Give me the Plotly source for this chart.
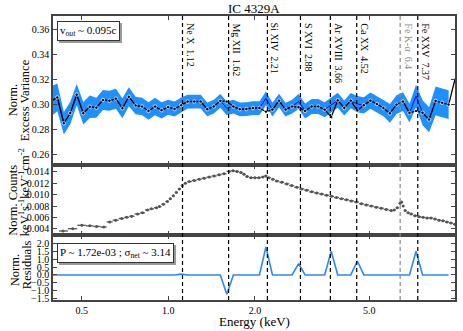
import numpy as np
import plotly.graph_objects as go

# ---------------- data ----------------
# Top panel: normalised excess variance
var_energy = [0.390, 0.411, 0.433, 0.456, 0.480, 0.506, 0.533, 0.562, 0.592, 0.624,
              0.657, 0.692, 0.729, 0.769, 0.810, 0.853, 0.899, 0.947, 0.998, 1.051,
              1.108, 1.167, 1.230, 1.296, 1.365, 1.439, 1.516, 1.597, 1.683, 1.773,
              1.868, 1.968, 2.074, 2.185, 2.302, 2.426, 2.556, 2.693, 2.837, 2.990,
              3.150, 3.319, 3.497, 3.685, 3.882, 4.091, 4.310, 4.541, 4.785, 5.042,
              5.312, 5.597, 5.897, 6.214, 6.547, 6.898, 7.268, 7.658, 8.069, 8.502,
              8.958, 9.438]
var_data = [0.3020, 0.3053, 0.2846, 0.2928, 0.3075, 0.2926, 0.2978, 0.2970, 0.3032, 0.3026,
            0.3043, 0.2966, 0.3058, 0.2988, 0.2980, 0.2944, 0.2980, 0.2950, 0.2975, 0.2960,
            0.2992, 0.3020, 0.3020, 0.3020, 0.2958, 0.2980, 0.3025, 0.2966, 0.2980, 0.2958,
            0.2960, 0.2968, 0.2968, 0.3045, 0.2955, 0.3027, 0.2955, 0.2980, 0.3020, 0.2945,
            0.2980, 0.2980, 0.2955, 0.2990, 0.3030, 0.2968, 0.3027, 0.3000, 0.2990, 0.3027,
            0.3000, 0.2968, 0.2925, 0.2995, 0.3020, 0.2928, 0.3065, 0.2930, 0.2875, 0.3025,
            0.3010, 0.2995]
var_err = [0.0120, 0.0110, 0.0090, 0.0090, 0.0085, 0.0090, 0.0090, 0.0080, 0.0080, 0.0080,
           0.0080, 0.0080, 0.0075, 0.0070, 0.0070, 0.0070, 0.0070, 0.0065, 0.0060, 0.0060,
           0.0060, 0.0055, 0.0055, 0.0055, 0.0055, 0.0055, 0.0055, 0.0055, 0.0055, 0.0055,
           0.0055, 0.0055, 0.0055, 0.0055, 0.0055, 0.0055, 0.0055, 0.0055, 0.0060, 0.0060,
           0.0060, 0.0060, 0.0060, 0.0060, 0.0060, 0.0060, 0.0060, 0.0065, 0.0065, 0.0065,
           0.0065, 0.0065, 0.0075, 0.0075, 0.0075, 0.0075, 0.0090, 0.0100, 0.0100, 0.0115,
           0.0115, 0.0115]
model_energy = var_energy + [9.945]
var_model = [0.3020, 0.3053, 0.2846, 0.2928, 0.3075, 0.2926, 0.2978, 0.2970, 0.3032, 0.3026,
             0.3043, 0.2966, 0.3058, 0.2988, 0.2980, 0.2944, 0.2980, 0.2950, 0.2975, 0.2960,
             0.2990, 0.3020, 0.3020, 0.3020, 0.2958, 0.2980, 0.3025, 0.3020, 0.2980, 0.2958,
             0.2960, 0.2968, 0.2968, 0.2938, 0.2955, 0.3027, 0.2955, 0.2980, 0.2975, 0.2945,
             0.2980, 0.2980, 0.2955, 0.2895, 0.3030, 0.2968, 0.3027, 0.2948, 0.2990, 0.3027,
             0.3000, 0.2968, 0.2925, 0.2995, 0.3020, 0.2928, 0.2945, 0.2930, 0.2875, 0.3025,
             0.3010, 0.2995, 0.3205]

# Middle panel: normalised counts spectrum
counts_energy = [0.403, 0.430, 0.465, 0.500, 0.533, 0.563, 0.596, 0.625, 0.656, 0.688,
                 0.716, 0.745, 0.781, 0.813, 0.846, 0.873, 0.909, 0.931, 0.961, 0.992,
                 1.016, 1.041, 1.066, 1.092, 1.118, 1.145, 1.182, 1.230, 1.280, 1.332,
                 1.386, 1.443, 1.501, 1.562, 1.626, 1.679, 1.733, 1.789, 1.832, 1.877,
                 1.938, 2.000, 2.065, 2.132, 2.183, 2.236, 2.308, 2.383, 2.480, 2.581,
                 2.686, 2.795, 2.909, 3.027, 3.150, 3.279, 3.412, 3.550, 3.694, 3.845,
                 4.001, 4.164, 4.333, 4.508, 4.692, 4.882, 5.080, 5.287, 5.502, 5.725,
                 5.958, 6.103, 6.250, 6.401, 6.478, 6.556, 6.661, 6.822, 6.988, 7.213,
                 7.447, 7.689, 7.940, 8.193, 8.458, 8.733, 9.016, 9.309, 9.610, 9.920]
counts_value = [0.0029, 0.0036, 0.0040, 0.0046, 0.0045, 0.0044, 0.0043, 0.0052, 0.0055, 0.0058,
                0.0060, 0.0062, 0.0066, 0.0068, 0.0073, 0.0075, 0.0077, 0.0079, 0.0083, 0.0088,
                0.0093, 0.0098, 0.0104, 0.0110, 0.0116, 0.0120, 0.0123, 0.0125, 0.0127, 0.0129,
                0.0131, 0.0133, 0.0135, 0.0137, 0.0141, 0.0142, 0.0141, 0.0139, 0.0136, 0.0132,
                0.0130, 0.0130, 0.0130, 0.0131, 0.0133, 0.0130, 0.0127, 0.0124, 0.0122, 0.0119,
                0.0116, 0.0113, 0.0110, 0.0108, 0.0105, 0.0103, 0.0101, 0.0099, 0.0097, 0.0095,
                0.0093, 0.0091, 0.0089, 0.0087, 0.0084, 0.0082, 0.0080, 0.0078, 0.0076, 0.0074,
                0.0072, 0.0073, 0.0077, 0.0085, 0.0087, 0.0080, 0.0072, 0.0068, 0.0066, 0.0063,
                0.0061, 0.0060, 0.0059, 0.0059, 0.0057, 0.0055, 0.0054, 0.0052, 0.0050, 0.0048]
counts_err = 0.00018

# Bottom panel: normalised residuals on the variance grid
residuals = [0, 0, 0, 0, 0, 0, 0, 0, 0, 0,
             0, 0, 0, 0, 0, 0, 0, 0, 0, 0,
             0.05, 0, 0, 0, 0, 0, 0, -1.22, 0, 0,
             0, 0, 0, 1.77, 0, 0, 0, 0, 0.72, 0,
             0, 0, 0, 1.50, 0, 0, 0, 0.88, 0, 0,
             0, 0, 0, 0, 0, 0, 1.50, 0, 0, 0,
             0, 0]

# Emission lines
line_names = ["Ne X", "Mg XII", "Si XIV", "S XVI", "Ar XVIII", "Ca XX", "Fe K-\u03b1", "Fe XXV"]
line_energy = [1.12, 1.62, 2.21, 2.88, 3.66, 4.52, 6.4, 7.37]
line_label = ["1.12", "1.62", "2.21", "2.88", "3.66", "4.52", "6.4", "7.37"]

title_text = "IC 4329A"
vout_text = "v<sub><i>out</i></sub> ~ 0.095c"
stat_text = "P ~ 1.72e-03 ; \u03c3<sub>net</sub> ~ 3.14"

# ---------------- figure ----------------
FONT = "Liberation Serif"
BAND = "#1E90FF"
W, H = 463, 331
ML, MR, MT, MB = 53, 6, 16, 31
PH = H - MT - MB  # 284

def py(pix):
    return (H - MB - pix) / PH

def px(pix):
    return (pix - ML) / (W - ML - MR)

dom_top = [py(165), 1.0]
dom_mid = [py(235), py(165)]
dom_bot = [0.0, py(235)]

fig = go.Figure()

vd = np.array(var_data)
ve = np.array(var_err)
fig.add_trace(go.Scatter(x=var_energy, y=vd + ve, mode="lines", line=dict(width=0, color=BAND),
                         showlegend=False, hoverinfo="skip", xaxis="x", yaxis="y"))
fig.add_trace(go.Scatter(x=var_energy, y=vd - ve, mode="lines", line=dict(width=0, color=BAND),
                         fill="tonexty", fillcolor=BAND, showlegend=False, hoverinfo="skip",
                         xaxis="x", yaxis="y"))
fig.add_trace(go.Scatter(x=var_energy, y=var_data, mode="lines", line=dict(color="#1010d0", width=1),
                         showlegend=False, xaxis="x", yaxis="y"))
msize = [3.5] * len(var_energy) + [0]
fig.add_trace(go.Scatter(x=model_energy, y=var_model, mode="lines+markers",
                         line=dict(color="black", width=1.3),
                         marker=dict(color="black", size=msize),
                         showlegend=False, xaxis="x", yaxis="y"))

# counts with error bars
ce = np.array(counts_energy)
edges = np.sqrt(ce[1:] * ce[:-1])
lo = np.concatenate([[ce[0] ** 2 / edges[0]], edges])
hi = np.concatenate([edges, [ce[-1] ** 2 / edges[-1]]])
fig.add_trace(go.Scatter(
    x=counts_energy, y=counts_value, mode="markers",
    marker=dict(color="#555555", size=3),
    error_x=dict(type="data", symmetric=False, array=hi - ce, arrayminus=ce - lo,
                 color="#555555", thickness=1.3, width=0),
    error_y=dict(type="constant", value=counts_err, color="#777777", thickness=1.3, width=0),
    showlegend=False, xaxis="x2", yaxis="y2"))

fig.add_trace(go.Scatter(x=var_energy, y=residuals, mode="lines",
                         line=dict(color="#2a8af0", width=1.6),
                         showlegend=False, xaxis="x3", yaxis="y3"))

xr = [np.log10(0.397), np.log10(9.93)]
axcommon = dict(showline=True, linecolor="#444", linewidth=1.5, mirror="allticks",
                ticks="inside", ticklen=4, tickwidth=1, tickcolor="#444",
                showgrid=False, zeroline=False,
                tickfont=dict(family=FONT, size=10, color="black"))
xcommon = dict(type="log", range=xr, tickvals=[0.5, 1, 2, 5],
               ticktext=["0.5", "1.0", "2.0", "5.0"], **axcommon)

fig.update_layout(
    width=W, height=H,
    margin=dict(l=ML, r=MR, t=MT, b=MB),
    paper_bgcolor="white", plot_bgcolor="white",
    showlegend=False,
    xaxis=dict(domain=[0, 1], anchor="y", showticklabels=False, **xcommon),
    xaxis2=dict(domain=[0, 1], anchor="y2", matches="x", showticklabels=False, **xcommon),
    xaxis3=dict(domain=[0, 1], anchor="y3", matches="x", showticklabels=True, **xcommon),
    yaxis=dict(domain=dom_top, anchor="x", range=[0.2512, 0.3704], tickvals=[0.26, 0.28, 0.30, 0.32, 0.34, 0.36],
               tickformat=".2f", **axcommon),
    yaxis2=dict(domain=dom_mid, anchor="x2", range=[0.00289, 0.01523],
                tickvals=[0.004, 0.006, 0.008, 0.010, 0.012, 0.014], tickformat=".3f", **axcommon),
    yaxis3=dict(domain=dom_bot, anchor="x3", range=[-1.58, 2.52],
                tickvals=[-1.5, -1.0, -0.5, 0.0, 0.5, 1.0, 1.5, 2.0], tickformat=".1f", **axcommon),
)

# vertical dashed lines
for name, e in zip(line_names, line_energy):
    col = "#888888" if "K-" in name else "black"
    fig.add_shape(type="line", xref="x", yref="paper", x0=e, x1=e, y0=0, y1=1,
                  line=dict(color=col, width=1.2, dash="4px,3px"), layer="above")

# line labels
for name, e, lab in zip(line_names, line_energy, line_label):
    col = "#888888" if "K-" in name else "black"
    fig.add_annotation(x=np.log10(e), xref="x", y=py(21), yref="paper",
                       text=name + "\u00a0\u00a0" + lab, textangle=90, showarrow=False,
                       xanchor="left", yanchor="top", xshift=0,
                       font=dict(family=FONT, size=10, color=col))

# text boxes with shadow
for txt, top in [(vout_text, 21), (stat_text, 243)]:
    fig.add_annotation(x=px(57), y=py(top), xref="paper", yref="paper", text=txt,
                       showarrow=False, xanchor="left", yanchor="top", xshift=2, yshift=-2,
                       bgcolor="#9a9a9a", bordercolor="#9a9a9a", borderwidth=1, borderpad=2,
                       font=dict(family=FONT, size=11, color="#9a9a9a"))
    fig.add_annotation(x=px(57), y=py(top), xref="paper", yref="paper", text=txt,
                       showarrow=False, xanchor="left", yanchor="top",
                       bgcolor="white", bordercolor="#333", borderwidth=1, borderpad=2,
                       font=dict(family=FONT, size=11, color="black"))

# titles
fig.add_annotation(x=px(255), y=py(8), xref="paper", yref="paper", text=title_text,
                   showarrow=False, xanchor="center", yanchor="middle",
                   font=dict(family=FONT, size=13, color="black"))
fig.add_annotation(x=px(256), y=py(322), xref="paper", yref="paper", text="Energy (keV)",
                   showarrow=False, xanchor="center", yanchor="middle",
                   font=dict(family=FONT, size=13, color="black"))

ytitles = [("Norm.", 13, 100), ("Excess Variance", 25, 100),
           ("Norm. Counts", 12.5, 200),
           ("keV<sup>1</sup>s<sup>-1</sup>keV<sup>-1</sup>cm<sup>-2</sup>", 24, 192),
           ("Norm.", 15, 270), ("Residuals", 27, 265)]
for txt, xc, yc in ytitles:
    fig.add_annotation(x=px(xc), y=py(yc), xref="paper", yref="paper", text=txt,
                       textangle=-90, showarrow=False, xanchor="center", yanchor="middle",
                       font=dict(family=FONT, size=12.5, color="black"))

fig.write_html("out.html", config={"displayModeBar": False},
               post_script="document.body.style.margin='0px';document.body.style.overflow='hidden';")
